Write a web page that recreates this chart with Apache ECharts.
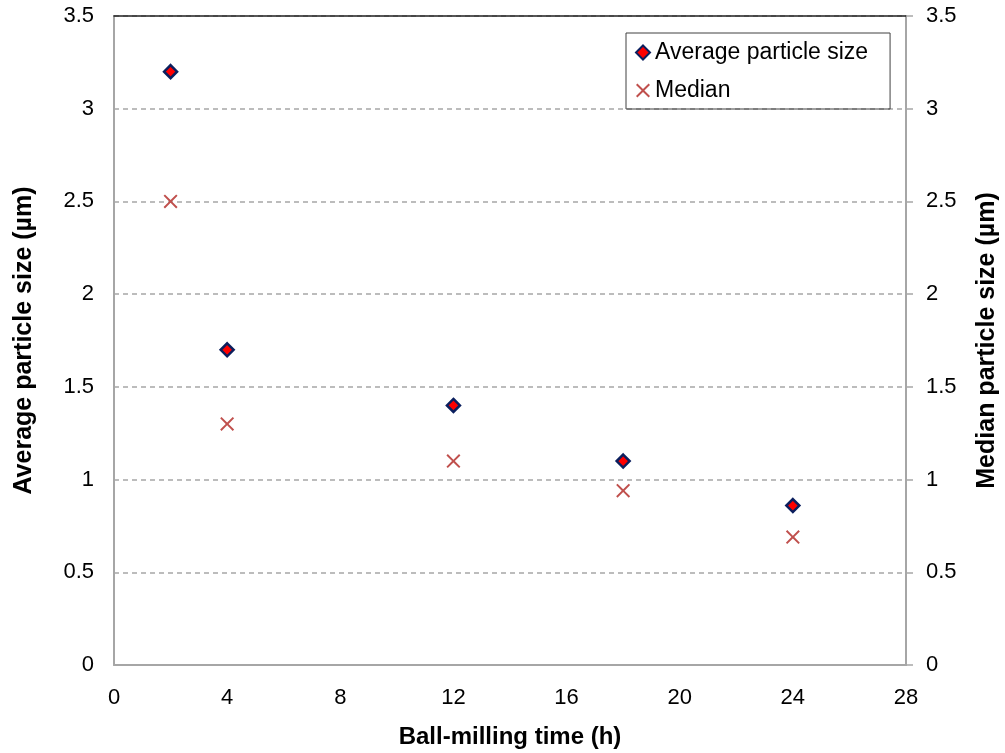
<!DOCTYPE html>
<html>
<head>
<meta charset="utf-8">
<script src="https://cdn.jsdelivr.net/npm/echarts@6/dist/echarts.min.js"></script>
<style>
  html, body { margin: 0; padding: 0; background: #fff; }
  #chart { width: 1005px; height: 753px; }
</style>
</head>
<body>
<div id="chart"></div>
<script>
// data
var millingTime = [2, 4, 12, 18, 24];
var averageSize = [3.2, 1.7, 1.4, 1.1, 0.86];
var medianSize = [2.5, 1.3, 1.1, 0.94, 0.69];
var xTicks = [0, 4, 8, 12, 16, 20, 24, 28];
var yTicks = [0, 0.5, 1, 1.5, 2, 2.5, 3, 3.5];

var crossPath = "path://M0,1 L1,0 L5,4 L9,0 L10,1 L6,5 L10,9 L9,10 L5,6 L1,10 L0,9 L4,5 Z";
var font = "Liberation Sans, Arial, sans-serif";

function pairs(xs, ys) {
  return xs.map(function (x, i) { return [x, ys[i]]; });
}

var chart = echarts.init(document.getElementById("chart"));

var yAxisBase = {
  type: "value",
  min: yTicks[0],
  max: yTicks[yTicks.length - 1],
  interval: 0.5,
  nameLocation: "middle",
  nameTextStyle: { fontFamily: font, fontSize: 25, fontWeight: "bold", color: "#000" },
  axisLabel: { fontFamily: font, fontSize: 22, color: "#000", margin: 20 },
  axisLine: { show: true, onZero: false, lineStyle: { color: "#a6a6a6", width: 2 } }
};

var option = {
  animation: false,
  backgroundColor: "#fff",
  grid: { left: 114, right: 99, top: 16, bottom: 88, outerBoundsMode: "none", containLabel: false },
  legend: {
    orient: "vertical",
    left: 626,
    top: 33,
    padding: [8, 22, 7, 9],
    itemGap: 15,
    itemWidth: 14,
    itemHeight: 14,
    borderColor: "#404040",
    borderWidth: 1,
    textStyle: { fontFamily: font, fontSize: 23, color: "#000" },
    data: [
      { name: "Average particle size", icon: "diamond" },
      { name: "Median", icon: crossPath }
    ]
  },
  xAxis: [
    {
      type: "value",
      min: xTicks[0],
      max: xTicks[xTicks.length - 1],
      interval: 4,
      name: "Ball-milling time (h)",
      nameLocation: "middle",
      nameGap: 60,
      nameTextStyle: { fontFamily: font, fontSize: 24, fontWeight: "bold", color: "#000" },
      axisLabel: { fontFamily: font, fontSize: 22, color: "#000", margin: 22 },
      axisLine: { show: true, onZero: false, lineStyle: { color: "#a6a6a6", width: 2 } },
      axisTick: { show: false },
      splitLine: { show: false }
    },
    {
      type: "value",
      position: "top",
      min: xTicks[0],
      max: xTicks[xTicks.length - 1],
      axisLabel: { show: false },
      axisTick: { show: false },
      splitLine: { show: false },
      axisLine: { show: true, onZero: false, lineStyle: { color: "#202020", width: 1.5 } }
    }
  ],
  yAxis: [
    Object.assign({}, yAxisBase, {
      position: "left",
      name: "Average particle size (µm)",
      nameGap: 77,
      axisTick: { show: false },
      splitLine: { show: true, lineStyle: { color: "#a6a6a6", type: [5, 4], width: 1.5 } }
    }),
    Object.assign({}, yAxisBase, {
      position: "right",
      name: "Median particle size (µm)",
      nameGap: 69,
      axisTick: { show: true, length: 7, lineStyle: { color: "#a6a6a6", width: 1.5 } },
      splitLine: { show: false }
    })
  ],
  series: [
    {
      name: "Average particle size",
      type: "scatter",
      yAxisIndex: 0,
      symbol: "diamond",
      symbolSize: 13,
      itemStyle: { color: "#ff0000", borderColor: "#0b1f5e", borderWidth: 2.5, opacity: 1 },
      data: pairs(millingTime, averageSize)
    },
    {
      name: "Median",
      type: "scatter",
      yAxisIndex: 1,
      symbol: crossPath,
      symbolSize: 14,
      itemStyle: { color: "#c0504d", opacity: 1 },
      data: pairs(millingTime, medianSize)
    }
  ]
};

chart.setOption(option);
</script>
</body>
</html>
